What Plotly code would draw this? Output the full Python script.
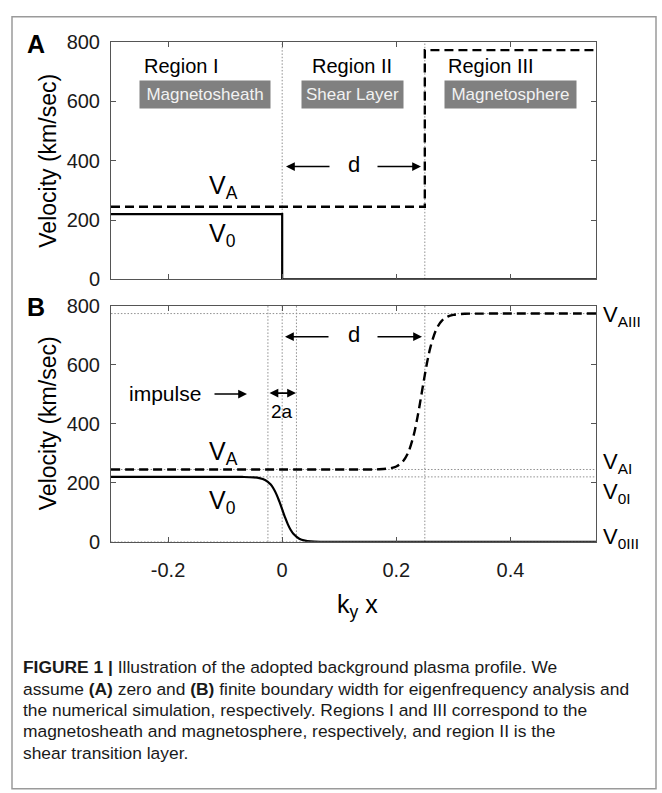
import plotly.graph_objects as go

W, H = 662, 793

# ---------------- data ----------------
x_range = [-0.3, 0.55]
y_range = [0, 800]
x_ticks = [-0.2, 0, 0.2, 0.4]
x_ticklabels = ["-0.2", "0", "0.2", "0.4"]
y_ticks = [0, 200, 400, 600, 800]
y_ticklabels = ["0", "200", "400", "600", "800"]

# Panel A: zero-width boundary (step profiles)
a_v0_x = [-0.3, 0.0, 0.55]
a_v0_y = [220, 0, 0]
a_va_x = [-0.3, 0.25, 0.55]
a_va_y = [245, 773, 773]
a_vlines = [0.0, 0.25]

# Panel B: finite boundary width (smooth profiles)
b_v0_x = [-0.30, -0.10, -0.07, -0.05, -0.04, -0.03, -0.02, -0.015, -0.01, -0.005,
          0.0, 0.005, 0.01, 0.015, 0.02, 0.03, 0.04, 0.05, 0.07, 0.10, 0.55]
b_v0_y = [220, 220, 219.8, 218.5, 216, 209.6, 193.8, 179.9, 160.8, 136.9,
          110, 83.1, 59.2, 40.1, 26.2, 10.4, 4.0, 1.5, 0.2, 0, 0]
b_va_x = [-0.30, 0.10, 0.15, 0.17, 0.19, 0.20, 0.21, 0.22, 0.23, 0.235, 0.24,
          0.245, 0.25, 0.255, 0.26, 0.27, 0.28, 0.29, 0.30, 0.32, 0.35, 0.55]
b_va_y = [245, 245, 245.1, 245.8, 249.4, 255.3, 269, 298.8, 357.7, 400.9, 452.6,
          509, 565.4, 617.1, 660.3, 719.2, 749, 762.7, 768.6, 772.2, 772.9, 773]
b_hlines = [773, 245, 220, 0]
b_vlines = [-0.025, 0.0, 0.025, 0.25]

region_titles = ["Region I", "Region II", "Region III"]
region_boxes = ["Magnetosheath", "Shear Layer", "Magnetosphere"]
right_labels = ["V<sub>AIII</sub>", "V<sub>AI</sub>", "V<sub>0I</sub>", "V<sub>0III</sub>"]
caption_lines = [
    "<b>FIGURE 1 |</b> Illustration of the adopted background plasma profile. We",
    "assume <b>(A)</b> zero and <b>(B)</b> finite boundary width for eigenfrequency analysis and",
    "the numerical simulation, respectively. Regions I and III correspond to the",
    "magnetosheath and magnetosphere, respectively, and region II is the",
    "shear transition layer.",
]

FONT = "Liberation Sans, Arial, Helvetica, sans-serif"
CAPFONT = "Liberation Sans, Arial, sans-serif"
AXC = "#555555"
DOT = "#8f8f8f"
DOTDASH = "1.5px,1.8px"

fig = go.Figure()

# Panel A traces
fig.add_trace(go.Scatter(x=a_v0_x, y=a_v0_y, mode="lines", line_shape="hv",
                         line=dict(color="black", width=2.2), xaxis="x", yaxis="y"))
fig.add_trace(go.Scatter(x=a_va_x, y=a_va_y, mode="lines", line_shape="hv",
                         line=dict(color="black", width=2.4, dash="9px,5px"), xaxis="x", yaxis="y"))
# Panel B traces
fig.add_trace(go.Scatter(x=b_v0_x, y=b_v0_y, mode="lines", line_shape="spline",
                         line=dict(color="black", width=2.2), xaxis="x2", yaxis="y2"))
fig.add_trace(go.Scatter(x=b_va_x, y=b_va_y, mode="lines", line_shape="spline",
                         line=dict(color="black", width=2.4, dash="9px,5px"), xaxis="x2", yaxis="y2"))

shapes = []
for xv in a_vlines:
    shapes.append(dict(type="line", xref="x", yref="y domain", x0=xv, x1=xv, y0=0, y1=1,
                       line=dict(color=DOT, width=1, dash=DOTDASH), layer="below"))
for xv in b_vlines:
    shapes.append(dict(type="line", xref="x2", yref="y2 domain", x0=xv, x1=xv, y0=0, y1=1,
                       line=dict(color=DOT, width=1, dash=DOTDASH), layer="below"))
for yv in b_hlines:
    shapes.append(dict(type="line", xref="x2 domain", yref="y2", x0=0, x1=1, y0=yv, y1=yv,
                       line=dict(color=DOT, width=1, dash=DOTDASH), layer="below"))
# outer frame
shapes.append(dict(type="rect", xref="paper", yref="paper", x0=12 / W, x1=656 / W,
                   y0=1 - 800 / H, y1=1 - 6 / H, line=dict(color="#9a9a9a", width=1.5)))


def px(x):
    return x / W


def py(y):
    return 1 - y / H


ann = []


def text(x, y, s, size, color="black", xanchor="center", yanchor="middle", family=FONT, **kw):
    d = dict(x=px(x), y=py(y), xref="paper", yref="paper", text=s, showarrow=False,
             font=dict(size=size, color=color, family=family), xanchor=xanchor, yanchor=yanchor)
    d.update(kw)
    ann.append(d)


def arrow(tipx, tipy, tailx, taily, side="end"):
    ann.append(dict(x=px(tipx), y=py(tipy), xref="paper", yref="paper", text=" ",
                    font=dict(size=1), showarrow=True, ax=tailx - tipx, ay=taily - tipy,
                    arrowhead=2, arrowsize=1.1, arrowwidth=1.6, arrowcolor="black",
                    arrowside=side, standoff=0, startstandoff=0))


# panel letters
text(36, 34, "<b>A</b>", 25)
text(36, 304, "<b>B</b>", 25)

# y titles
for cy in (154, 424):
    text(48, cy, "Velocity (km/sec)", 23, textangle=-90)

# region titles and boxes
for (cx, s) in zip((181, 352, 491), region_titles):
    text(cx, 57, s, 20)
for (cx, wbox, s) in zip((205, 352.5, 510.5), (126, 97, 127), region_boxes):
    text(cx, 85.5, s, 17, color="#f2f2f2", bgcolor="#808080", width=wbox, height=23,
         borderpad=2)

# d arrows panel A
arrow(286, 160, 331, 160)
arrow(421, 160, 376, 160)
text(354, 158, "d", 22)
# d arrows panel B
arrow(285, 335, 330, 335)
arrow(422, 335, 376, 335)
text(354, 333, "d", 22)

# impulse
text(165, 393, "impulse", 21)
arrow(247, 394, 213, 394)
arrow(296, 393, 268, 393, side="end+start")
text(282, 412, "2a", 19)

# V labels inside panels
text(207, 181, "V<sub>A</sub>", 25, xanchor="left")
text(207, 230, "V<sub>0</sub>", 25, xanchor="left")
text(207, 455, "V<sub>A</sub>", 25, xanchor="left")
text(207, 505, "V<sub>0</sub>", 25, xanchor="left")

# right labels of panel B
for (cy, s) in zip((314, 465, 496, 542), right_labels):
    text(601, cy, s, 22, xanchor="left")

# x axis title
text(357, 612, "k<sub>y</sub> x", 25)

# caption
for i, s in enumerate(caption_lines):
    text(21, 675 + 22 * i, s, 17.4, color="#1a1a1a", xanchor="left", family=CAPFONT)

axis_common = dict(range=x_range, tickvals=x_ticks, ticktext=x_ticklabels, ticks="inside",
                   ticklen=5, tickcolor=AXC, showline=True, linecolor=AXC, linewidth=1,
                   mirror="allticks", showgrid=False, zeroline=False,
                   tickfont=dict(size=20, color="#1a1a1a", family=FONT))
yaxis_common = dict(range=y_range, tickvals=y_ticks, ticktext=y_ticklabels, ticks="inside",
                    ticklen=5, tickcolor=AXC, showline=True, linecolor=AXC, linewidth=1,
                    mirror="allticks", showgrid=False, zeroline=False,
                    tickfont=dict(size=20, color="#1a1a1a", family=FONT), ticklabelstandoff=6)

xd = [111 / W, 596 / W]
fig.update_layout(
    width=W, height=H, margin=dict(l=0, r=0, t=0, b=0),
    paper_bgcolor="white", plot_bgcolor="white", showlegend=False,
    xaxis=dict(domain=xd, anchor="y", showticklabels=False, **axis_common),
    yaxis=dict(domain=[1 - 276 / H, 1 - 32 / H], anchor="x", **yaxis_common),
    xaxis2=dict(domain=xd, anchor="y2", showticklabels=True, ticklabelstandoff=10, **axis_common),
    yaxis2=dict(domain=[1 - 546 / H, 1 - 303 / H], anchor="x2", **yaxis_common),
    shapes=shapes, annotations=ann,
)

fig.write_html("out.html")
